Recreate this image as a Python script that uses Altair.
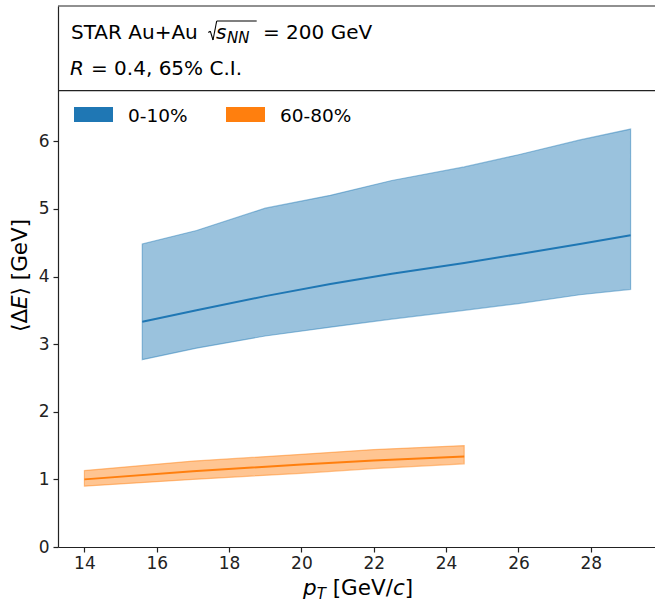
import altair as alt
import pandas as pd

# ---- data ----
series_names = ["0-10%", "60-80%"]
series_colors = ["#1f77b4", "#ff7f0e"]

pt_central = [15.6, 17.1, 19.0, 20.8, 22.5, 24.5, 26.0, 27.7, 29.1]
lo_central = [2.77, 2.94, 3.12, 3.25, 3.37, 3.50, 3.60, 3.73, 3.81]
med_central = [3.33, 3.50, 3.71, 3.89, 4.04, 4.20, 4.33, 4.48, 4.61]
hi_central = [4.48, 4.68, 5.01, 5.20, 5.42, 5.62, 5.80, 6.02, 6.18]

pt_peri = [14.0, 17.0, 20.0, 22.0, 24.5]
lo_peri = [0.90, 1.00, 1.09, 1.16, 1.23]
med_peri = [1.00, 1.12, 1.22, 1.28, 1.34]
hi_peri = [1.13, 1.27, 1.37, 1.44, 1.50]

x_ticks = [14, 16, 18, 20, 22, 24, 26, 28]
y_ticks = [0, 1, 2, 3, 4, 5, 6]

rows = []
for name, pts, lo, med, hi in [
    (series_names[0], pt_central, lo_central, med_central, hi_central),
    (series_names[1], pt_peri, lo_peri, med_peri, hi_peri),
]:
    for p, l, m, h in zip(pts, lo, med, hi):
        rows.append({"series": name, "pt": p, "lo": l, "med": m, "hi": h})
df = pd.DataFrame(rows)

W, H = 597, 541
FONT = "DejaVu Sans"
INK = "#222222"

xscale = alt.Scale(domain=[13.27, 29.775], nice=False, zero=False)
yscale = alt.Scale(domain=[0, 8.0], nice=False, zero=False)
cscale = alt.Scale(domain=series_names, range=series_colors)

axis_common = dict(
    grid=False, title=None, labelFont=FONT, labelFontSize=17, labelColor=INK,
    tickColor=INK, domainColor=INK, tickSize=5, tickWidth=1.2, domainWidth=1.2,
    labelFlush=False, labelOverlap=False, format="d",
)

base = alt.Chart(df)

band = base.mark_area(fillOpacity=0.45, strokeOpacity=0.45, strokeWidth=1.2).encode(
    x=alt.X("pt:Q", scale=xscale, axis=alt.Axis(values=x_ticks, labelPadding=3, **axis_common)),
    y=alt.Y("lo:Q", scale=yscale, axis=alt.Axis(values=y_ticks, labelPadding=4, **axis_common)),
    y2="hi:Q",
    fill=alt.Fill("series:N", scale=cscale, legend=None),
    stroke=alt.Stroke("series:N", scale=cscale, legend=None),
)

median = base.mark_line(strokeWidth=2).encode(
    x=alt.X("pt:Q", scale=xscale),
    y=alt.Y("med:Q", scale=yscale),
    color=alt.Color("series:N", scale=cscale, legend=None),
)


def one(d=None):
    return alt.Chart(pd.DataFrame(d if d is not None else {"k": [0]}))


def txt(s, x, y, size, italic=False, angle=0):
    m = one({"t": [s]}).mark_text(
        align="left", baseline="alphabetic", font=FONT, fontSize=size,
        fontStyle="italic" if italic else "normal", color="black", angle=angle,
    )
    return m.encode(text="t:N", x=alt.value(x), y=alt.value(y))


def seg(x1, y1, x2, y2, w=1.1):
    return one().mark_rule(color="black", strokeWidth=w).encode(
        x=alt.value(x1), y=alt.value(y1), x2=alt.value(x2), y2=alt.value(y2)
    )


# frame of the top text box
box_lines = one({"v": [8.0, 6.75]}).mark_rule(color=INK, strokeWidth=1.2).encode(
    y=alt.Y("v:Q", scale=yscale), x=alt.value(0), x2=alt.value(W)
)

layers = [band, median, box_lines]

# box text
layers += [
    txt("STAR Au+Au", 13, 33, 20),
    # radical sign of sqrt(s_NN)
    seg(150.3, 26.5, 152.3, 25.2),
    seg(152.3, 25.2, 155.0, 34.0),
    seg(155.0, 34.0, 158.7, 15.0),
    seg(158.7, 15.0, 198.7, 15.0),
    txt("s", 158, 33, 20, italic=True),
    txt("NN", 169, 37, 15, italic=True),
    txt("= 200 GeV", 205, 33, 20),
    txt("R", 12, 69, 20, italic=True),
    txt("= 0.4, 65% C.I.", 33, 69, 20),
]

# legend
for name, col, x0 in [(series_names[0], series_colors[0], 16), (series_names[1], series_colors[1], 168)]:
    sw = one().mark_rect(color=col).encode(
        x=alt.value(x0), x2=alt.value(x0 + 39), y=alt.value(101), y2=alt.value(116)
    )
    layers.append(sw)
    layers.append(txt(name, x0 + 54, 116, 18.5))

# x title: p_T [GeV/c]
layers += [
    txt("p", 245, 589, 21.5, italic=True),
    txt("T", 258.7, 593, 15, italic=True),
    txt("[GeV/", 274.7, 589, 21.5),
    txt("c", 335, 589, 21.5, italic=True),
    txt("]", 346.8, 589, 21.5),
]

# y title: <ΔE> [GeV]
layers += [
    txt("⟨Δ", -31, 326, 21.5, angle=270),
    txt("E", -31, 303, 21.5, italic=True, angle=270),
    txt("⟩ [GeV]", -31, 289.4, 21.5, angle=270),
]

chart = alt.layer(*layers).properties(
    width=W, height=H,
    autosize=alt.AutoSizeParams(type="none"),
    padding={"left": 58, "top": 6, "right": 0, "bottom": 55},
    background="white",
).configure_view(stroke=None)

chart.save("out.html", embed_options={"renderer": "svg", "actions": False})
